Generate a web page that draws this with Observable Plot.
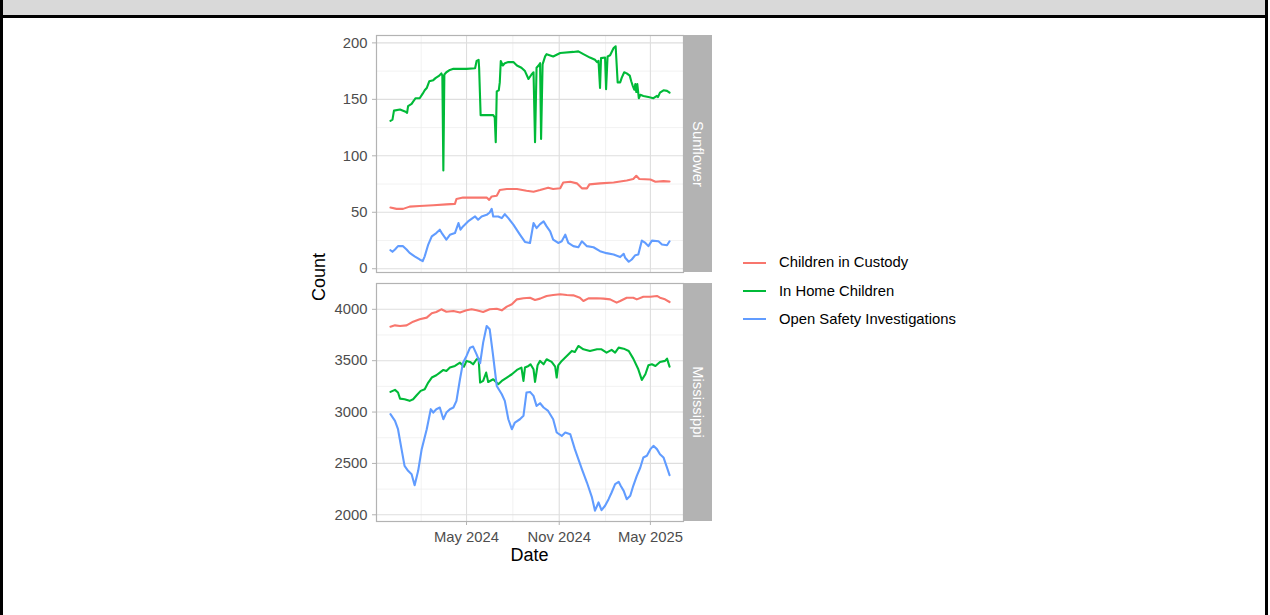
<!DOCTYPE html>
<html><head><meta charset="utf-8">
<script src="https://cdn.jsdelivr.net/npm/d3@7"></script>
<script src="https://cdn.jsdelivr.net/npm/@observablehq/plot@0.6"></script>
<style>
body{margin:0;background:#fff;font-family:"Liberation Sans",Arial,Helvetica,sans-serif;}
#root{position:relative;width:1270px;height:615px;overflow:hidden;background:#fff;}
.abs{position:absolute;}
.rot{position:absolute;white-space:nowrap;line-height:1;transform:translate(-50%,-50%);}
</style></head><body><div id="root"></div>
<script>
// ---- data (day index counted from startDate) ----
const startDate = "2023-12-02";
const seriesNames = ["Children in Custody", "In Home Children", "Open Safety Investigations"];
const seriesColors = ["#F8766D", "#00BA38", "#619CFF"];
const facetNames = ["Sunflower", "Mississippi"];
const xTickLabels = ["2024-05-01", "2024-11-01", "2025-05-01"];
const xMinorDates = ["2024-02-01", "2024-08-01", "2025-02-01"];
const sunYTicks = [0, 50, 100, 150, 200];
const sunYMinor = [25, 75, 125, 175];
const misYTicks = [2000, 2500, 3000, 3500, 4000];
const misYMinor = [2250, 2750, 3250, 3750];

// Sunflower
const sunCustodyDay = [0,12,25,38,58,85,111,128,131,144,164,191,196,201,211,217,231,251,270,284,297,313,323,337,343,357,370,380,390,395,416,443,469,482,488,494,516,526,542,554];
const sunCustodyVal = [54.2,53,53,55,55.6,56.2,57,57.4,61.8,63,63,63,61,64,64.7,69.7,70.6,70.6,69,68.2,69.7,71.8,70.6,71.2,76.4,77,75.6,71.2,71.2,74.7,75.6,76.4,78.2,79.4,82.3,79.4,79,77,77.6,77.3];
const sunInHomeDay = [0,4,7,19,30,33,35,42,45,50,58,64,68,72,77,85,90,97,101,103,105,107,111,118,125,151,168,171,175,176,179,191,204,207,209,211,215,217,219,223,227,234,244,251,260,267,274,280,284,287,290,294,297,299,302,307,310,323,337,363,373,383,396,406,410,413,416,418,426,428,431,436,443,447,451,456,459,464,469,475,478,481,484,486,488,490,493,496,502,512,522,529,531,535,542,549,554];
const sunInHomeVal = [131,132,140,141,139,138,144,146,148,151,151,155,158,160,166,167,169,171,173,171,87,172,174,176,177,177,177.5,184,185,178,136,136,136,134,112,157,158,165,184,180,182,183,183,180,178,175,168,172,174,112,178,180,182,115,181,188,190,188,191,192,192.5,190,187,185,183,184,160,186.5,187,159,188,189,195.5,197,165,165,169,174,173,171,166,162,158.5,163.5,156.5,163.5,151,154,153,152,151,153,152,156,158,157.5,156];
const sunSafetyDay = [0,4,9,15,25,32,38,48,58,64,68,75,82,91,98,103,111,118,128,135,139,144,154,168,174,181,191,197,201,204,214,221,227,234,244,257,267,277,284,290,297,304,310,317,323,333,340,347,353,363,373,380,390,403,416,429,443,456,463,466,473,479,486,492,499,506,512,519,532,539,549,554];
const sunSafetyVal = [16.4,15,17,20,20,17,14,11,8.2,6.7,11,21.4,28.7,31.6,34.6,30.8,25.8,30,31.6,40.4,34.6,37.5,41.9,46.3,43.4,46.3,47.7,49.8,53,46.3,46.3,44.8,48.3,44.8,39,30.2,23.7,22.8,40.4,36,39.5,41.9,37.5,33,25.8,22.8,24.3,30.2,22.8,20,19,24.3,20,19,15.5,13.8,12.6,10.3,13.2,9.7,6.2,8.2,12,12.6,24.9,22.8,20,24.9,24.3,21.4,20.8,24.3];

// Mississippi
const misCustodyDay = [0,9,19,32,45,58,72,82,91,101,111,125,138,151,161,171,184,197,211,221,231,241,251,264,277,287,297,310,323,337,350,363,376,383,393,410,423,436,449,456,469,482,489,502,516,529,535,545,554];
const misCustodyVal = [3831,3844,3838,3844,3880,3903,3919,3961,3974,4000,3977,3984,3968,3990,4000,3990,3974,4000,4006,3990,4026,4049,4097,4107,4113,4091,4104,4130,4139,4146,4139,4136,4113,4081,4107,4107,4104,4097,4065,4081,4113,4113,4097,4123,4123,4130,4113,4097,4071];
const misInHomeDay = [0,9,15,19,28,38,45,52,60,68,75,82,91,98,105,111,118,128,138,146,151,158,164,171,175,178,184,190,194,204,214,221,231,241,251,260,264,267,274,278,284,287,292,297,304,310,320,327,330,333,340,350,360,366,373,383,396,410,419,429,439,446,453,463,473,482,492,499,506,512,519,526,535,545,549,554];
const misInHomeVal = [3196,3216,3190,3131,3125,3109,3125,3164,3206,3222,3287,3336,3358,3384,3410,3400,3433,3449,3481,3442,3498,3488,3465,3514,3520,3287,3303,3384,3293,3319,3271,3303,3336,3368,3410,3433,3303,3433,3449,3465,3416,3293,3455,3498,3465,3514,3488,3442,3336,3455,3498,3546,3595,3585,3643,3611,3595,3611,3611,3579,3605,3579,3627,3617,3595,3520,3416,3313,3368,3455,3465,3449,3488,3498,3520,3442];
const misSafetyDay = [0,9,15,22,28,35,42,48,55,62,72,80,85,91,98,105,111,118,125,131,138,144,151,158,164,171,178,184,191,197,203,211,221,227,234,241,247,257,264,270,277,284,290,297,304,313,323,330,340,347,357,366,373,380,390,400,406,413,419,426,433,439,446,453,457,463,469,476,482,489,496,502,509,516,522,529,535,542,549,554];
const misSafetyVal = [2979,2914,2833,2639,2476,2428,2395,2288,2428,2639,2833,3028,2995,3028,3044,2930,2995,3028,3044,3109,3319,3481,3546,3627,3637,3562,3475,3676,3838,3806,3579,3254,3173,3109,2930,2833,2898,2930,2963,3190,3196,3157,3060,3086,3044,3011,2930,2801,2768,2801,2784,2639,2541,2444,2314,2169,2040,2120,2045,2088,2152,2217,2298,2321,2282,2233,2152,2185,2282,2379,2460,2558,2574,2639,2671,2639,2590,2558,2460,2386];

// ---- build tables ----
const start = new Date(startDate + "T00:00:00Z");
function rowsFor(facet, list) {
  const out = [];
  list.forEach(([name, days, vals]) => days.forEach((d, i) =>
    out.push({facet, series: name, date: d3.utcDay.offset(start, d), value: vals[i]})));
  return out;
}
const sunRows = rowsFor(facetNames[0], [
  [seriesNames[0], sunCustodyDay, sunCustodyVal],
  [seriesNames[1], sunInHomeDay, sunInHomeVal],
  [seriesNames[2], sunSafetyDay, sunSafetyVal]]);
const misRows = rowsFor(facetNames[1], [
  [seriesNames[0], misCustodyDay, misCustodyVal],
  [seriesNames[1], misInHomeDay, misInHomeVal],
  [seriesNames[2], misSafetyDay, misSafetyVal]]);

const allDates = sunRows.concat(misRows).map(r => +r.date);
const t0 = d3.min(allDates), t1 = d3.max(allDates), tp = (t1 - t0) * 0.05;
const xDomain = [new Date(t0 - tp), new Date(t1 + tp)];
const majorX = xTickLabels.map(s => new Date(s + "T00:00:00Z"));
const minorX = xMinorDates.map(s => new Date(s + "T00:00:00Z"));

const FONT = '"Liberation Sans", Arial, Helvetica, sans-serif';
const FS = 14.8;

function panel(rows, yTicks, yMinor, o) {
  const [lo, hi] = d3.extent(rows, r => r.value);
  const pad = (hi - lo) * 0.05;
  const marks = [
    Plot.gridX(minorX, {stroke: "#ececec", strokeOpacity: 1, strokeWidth: 0.7}),
    Plot.gridY(yMinor, {stroke: "#ececec", strokeOpacity: 1, strokeWidth: 0.7}),
    Plot.gridX(majorX, {stroke: "#dedede", strokeOpacity: 1, strokeWidth: 1.1}),
    Plot.gridY(yTicks, {stroke: "#dedede", strokeOpacity: 1, strokeWidth: 1.1}),
    Plot.axisY(yTicks, {tickSize: 4, tickPadding: 5, stroke: "#b3b3b3", fill: "#4d4d4d", label: null,
      tickFormat: d => String(d)}),
    Plot.line(rows, {x: "date", y: "value", stroke: "series", z: "series", strokeWidth: 2.1}),
    Plot.frame({stroke: "#b3b3b3", strokeWidth: 1.2})
  ];
  if (o.xAxis) marks.push(Plot.axisX(majorX, {tickSize: 4, tickPadding: 6, stroke: "#b3b3b3", fill: "#4d4d4d",
    tickFormat: d3.utcFormat("%b %Y"), label: null}));
  return Plot.plot({
    width: 385, height: o.height,
    marginLeft: 76, marginRight: 2, marginTop: 10, marginBottom: o.marginBottom,
    style: {fontFamily: FONT, fontSize: FS + "px", background: "transparent", overflow: "visible"},
    x: {type: "utc", domain: xDomain, axis: o.xAxis ? undefined : null},
    y: {domain: [lo - pad, hi + pad]},
    color: {domain: seriesNames, range: seriesColors},
    marks
  });
}

const root = document.getElementById("root");
function box(css, html) {
  const d = document.createElement("div");
  d.className = "abs"; d.style.cssText = css; if (html) d.innerHTML = html;
  root.appendChild(d); return d;
}
// outer frame of screenshot
box("left:0;top:0;width:1268px;height:15px;background:#d9d9d9;");
box("left:0;top:15px;width:1268px;height:3px;background:#000;");
box("left:0;top:0;width:3px;height:615px;background:#000;");
box("left:1265px;top:0;width:3px;height:615px;background:#000;");

const p1 = panel(sunRows, sunYTicks, sunYMinor, {height: 250, marginBottom: 3, xAxis: false});
const p2 = panel(misRows, misYTicks, misYMinor, {height: 278, marginBottom: 30, xAxis: true});
const w1 = box("left:300px;top:25px;"); w1.appendChild(p1);
const w2 = box("left:300px;top:273px;"); w2.appendChild(p2);

// strips
box("left:683px;top:35px;width:29px;height:237px;background:#b3b3b3;");
box("left:683px;top:283px;width:29px;height:238px;background:#b3b3b3;");
function rot(x, y, text, deg, size, color) {
  const d = document.createElement("div");
  d.className = "rot";
  d.style.cssText = `left:${x}px;top:${y}px;font-size:${size}px;color:${color};transform:translate(-50%,-50%) rotate(${deg}deg);font-family:${FONT};`;
  d.textContent = text; root.appendChild(d);
}
rot(697.5, 153.5, facetNames[0], 90, FS, "#ffffff");
rot(697.5, 402, facetNames[1], 90, FS, "#ffffff");
// axis titles
rot(319, 277, "Count", -90, 18, "#000");
rot(529.5, 554.5, "Date", 0, 18, "#000");

// legend
const legY = [262.7, 291, 319.3];
seriesNames.forEach((s, i) => {
  box(`left:743px;top:${legY[i] - 1}px;width:23px;height:2px;background:${seriesColors[i]};`);
  box(`left:779px;top:${legY[i] - 7.3}px;font-size:${FS}px;line-height:${FS}px;white-space:nowrap;color:#000;font-family:${FONT};`, s);
});
</script></body></html>
